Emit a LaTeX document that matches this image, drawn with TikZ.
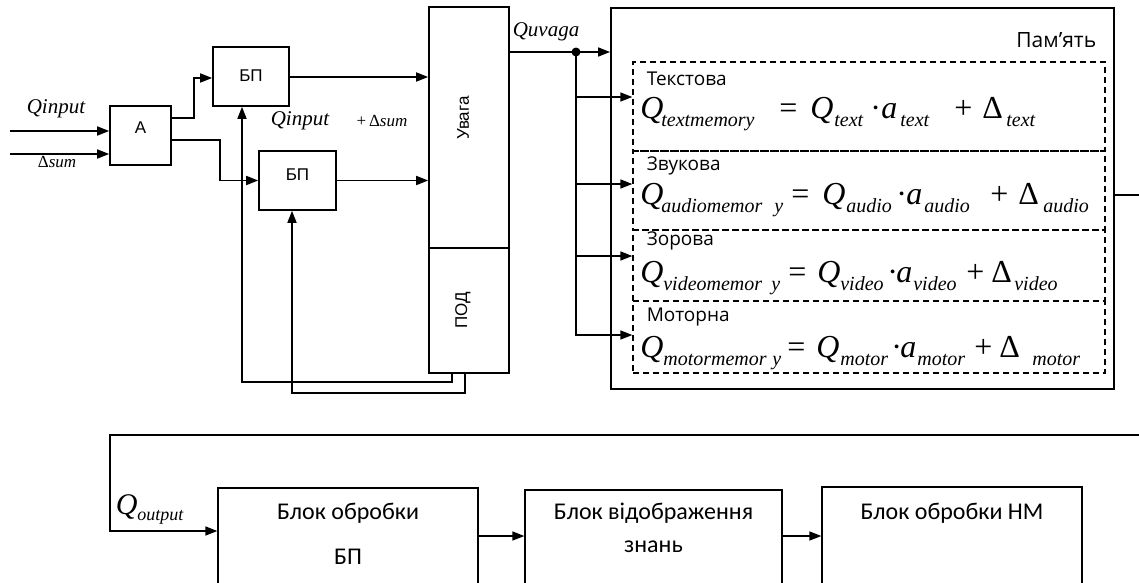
\documentclass[tikz,border=0pt]{standalone}
\usepackage{fontspec}
\setmainfont{Liberation Sans}
\newfontfamily\tnr{Liberation Serif}
\newfontfamily\osans{Open Sans}
\newfontfamily\calib{Carlito}
\usetikzlibrary{arrows.meta,calc}
\newcommand\fsz[1]{\fontsize{#1}{#1}\selectfont}
% piece placed at an absolute offset (pt) from the node's west anchor
\newcommand\at[2]{\makebox[0pt][l]{\hspace{#1pt}#2}}
\newcommand\bQ{{\fsz{32}\itshape Q}}
\newcommand\ba{{\fsz{32}\itshape a}}
\newcommand\bop[1]{{\fsz{32}#1}}
\newcommand\sub[1]{\raisebox{-8pt}{\fsz{20}\itshape #1}}
\begin{document}
\begin{tikzpicture}[x=1pt,y=-1pt,line width=1.6pt,
  arr/.style={-{Triangle[length=12pt,width=9pt]}},
  blk/.style={draw,inner sep=0pt},
  lbl/.style={inner sep=0pt,font=\fsz{17}},
  rowbox/.style={draw,dash pattern=on 6pt off 4pt,line width=1.3pt,inner sep=0pt,minimum width=472pt},
  rowlbl/.style={anchor=west,inner sep=0pt,font=\osans\fsz{19}},
  formula/.style={anchor=base west,inner sep=0pt,font=\tnr},
  big/.style={draw,line width=1.3pt,inner sep=0pt,minimum width=260pt,minimum height=150pt},
  blbl/.style={inner sep=0pt,font=\calib\fsz{24}}]
\clip (0,0) rectangle (1139,582);
% left part
\node[blk,minimum width=61pt,minimum height=59pt] (A) at (140.5,135.5) {};
\node[lbl] (At) at (140.5,128) {А};
\node[blk,minimum width=76pt,minimum height=59pt] (bp1) at (251,76.5) {};
\node[lbl] (bp1t) at (251,76) {БП};
\node[blk,minimum width=77pt,minimum height=59pt] (bp2) at (297.5,180.5) {};
\node[lbl] (bp2t) at (297.5,175) {БП};
\node[blk,minimum width=80pt,minimum height=241pt] (uv) at (469,127.5) {};
\node[lbl,rotate=90] (uvt) at (463,118) {Увага};
\node[blk,minimum width=80pt,minimum height=125pt] (pod) at (469,310.5) {};
\node[lbl,rotate=90] (podt) at (463,310) {ПОД};
% labels
\node[inner sep=0pt,font=\tnr\itshape\fsz{21}] (lq1) at (56,109) {Qinput};
\node[inner sep=0pt,font=\tnr\fsz{17}] (lds) at (57,162) {Δ\textit{sum}};
\node[inner sep=0pt,font=\tnr\itshape\fsz{21}] (lq2) at (300,121) {Qinput};
\node[inner sep=0pt,font=\tnr\fsz{17}] (lq3) at (382,121) {+\,Δ\textit{sum}};
\node[inner sep=0pt,font=\tnr\itshape\fsz{21}] (lqu) at (546,32) {Quvaga};
% inputs
\coordinate (in1) at (10,131);
\coordinate (in2) at (10,154);
\draw[arr] (in1) -- (in1 -| A.west);
\draw[arr] (in2) -- (in2 -| A.west);
\draw[arr] ([yshift=17.5pt]A.east) -- ++(22,0) |- ([yshift=-1.5pt]bp1.west);
\draw[arr] ([yshift=-4.5pt]A.east) -- ++(48,0) |- (bp2.west);
\draw[arr] ([yshift=-0.5pt]bp1.east) -- ([yshift=-0.5pt]bp1.east -| uv.west);
\draw[arr] (bp2.east) -- (bp2.east -| uv.west);
% feedback
\draw[arr] ([xshift=-17pt]pod.south) -- ++(0,8) -| ([xshift=-9pt]bp1.south);
\draw[arr] ([xshift=-4pt]pod.south) -- ++(0,19) -| ([xshift=-5.5pt]bp2.south);
% memory
\node[draw,line width=1.8pt,inner sep=0pt,minimum width=503pt,minimum height=381pt] (mem) at (862.5,198.5) {};
\node[anchor=east,inner sep=0pt,font=\osans\fsz{21}] (memt) at (1097,40) {Пам’ять};
\node[rowbox,minimum height=89pt] (r1) at (869,106.5) {};
\node[rowbox,minimum height=79pt] (r2) at (869,190.5) {};
\node[rowbox,minimum height=71pt] (r3) at (869,265.5) {};
\node[rowbox,minimum height=72pt] (r4) at (869,337) {};
\node[rowlbl] (r1l) at (646,79) {Текстова};
\node[rowlbl] (r2l) at (646,166) {Звукова};
\node[rowlbl] (r3l) at (646,241) {Зорова};
\node[rowlbl] (r4l) at (646,317) {Моторна};
\node[formula] (f1) at (639,118) {\at{0}{\bQ}\at{21}{\sub{textmemory}}\at{139}{\bop{=}}\at{170}{\bQ}\at{194}{\sub{text}}\at{230}{\bop{·}}\at{241}{\ba}\at{260}{\sub{text}}\at{314}{\bop{+}}\at{342}{\bop{Δ}}\at{366}{\sub{text}}};
\node[formula] (f2) at (639,204) {\at{0}{\bQ}\at{21}{\sub{audiomemor}}\at{134}{\sub{y}}\at{151}{\bop{=}}\at{182}{\bQ}\at{206}{\sub{audio}}\at{256}{\bop{·}}\at{266}{\ba}\at{284}{\sub{audio}}\at{350}{\bop{+}}\at{378}{\bop{Δ}}\at{403}{\sub{audio}}};
\node[formula] (f3) at (639,282) {\at{0}{\bQ}\at{23}{\sub{videomemor}}\at{131}{\sub{y}}\at{148}{\bop{=}}\at{177}{\bQ}\at{200}{\sub{video}}\at{247}{\bop{·}}\at{256}{\ba}\at{273}{\sub{video}}\at{326}{\bop{+}}\at{351}{\bop{Δ}}\at{374}{\sub{video}}};
\node[formula] (f4) at (639,357) {\at{0}{\bQ}\at{23}{\sub{motormemor}}\at{132}{\sub{y}}\at{147}{\bop{=}}\at{176}{\bQ}\at{200}{\sub{motor}}\at{251}{\bop{·}}\at{260}{\ba}\at{277}{\sub{motor}}\at{334}{\bop{+}}\at{359}{\bop{Δ}}\at{392}{\sub{motor}}};
% Quvaga line
\draw[arr] ([yshift=75.5pt]uv.east) -- ([yshift=75.5pt]uv.east -| mem.west);
\coordinate (sp) at (576,52);
\fill (sp) circle (4.5pt);
\draw[arr] (sp) |- ([yshift=9.5pt]r1.west);
\draw[arr] (sp) |- ([yshift=6.5pt]r2.west);
\draw[arr] (sp) |- ([yshift=9.5pt]r3.west);
\draw[arr] (sp) |- ([yshift=2pt]r4.west);
\coordinate (mo) at (1139,195);
\draw (mem.east |- mo) -- (mo);
% bottom
\node[big] (b1) at (348,563) {};
\node[big,minimum width=257pt] (b2) at (653.5,565) {};
\node[big] (b3) at (952,562) {};
\node[blbl] (b1a) at (348,513) {Блок обробки};
\node[blbl] (b1b) at (348,557) {БП};
\node[blbl] (b2a) at (653.5,513) {Блок відображення};
\node[blbl] (b2b) at (653.5,547) {знань};
\node[blbl] (b3a) at (952,513) {Блок обробки НМ};
\node[anchor=base west,inner sep=0pt,font=\tnr] (lqo) at (115,514) {{\fsz{30}\itshape Q}\raisebox{-6pt}{\fsz{18}\itshape output}};
\coordinate (fb) at (1139,435);
\coordinate (fq) at (110,435);
\draw[arr] (fb) -- (fq) |- ([yshift=32pt]b1.west);
\draw[arr] ([yshift=27pt]b1.east) -- ([yshift=27pt]b1.east -| b2.west);
\draw[arr] ([yshift=29pt]b2.east) -- ([yshift=29pt]b2.east -| b3.west);
\end{tikzpicture}
\end{document}
